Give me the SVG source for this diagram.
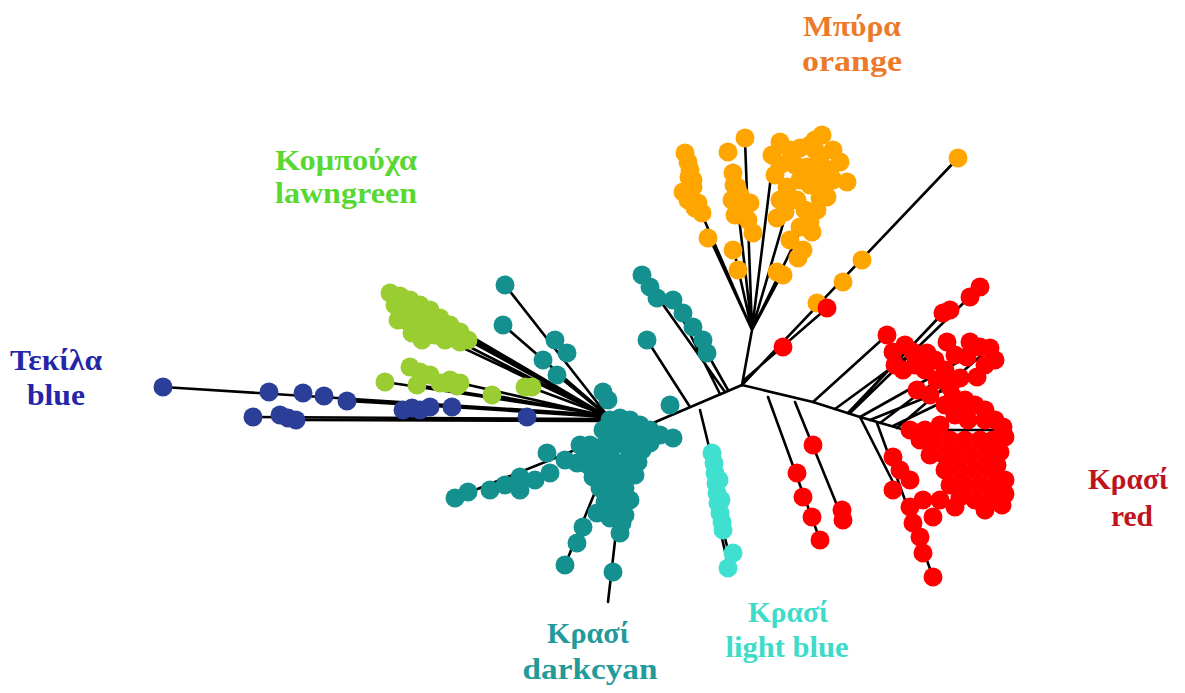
<svg xmlns="http://www.w3.org/2000/svg" width="1185" height="693" viewBox="0 0 1185 693">
<style>
.e{stroke:#000;stroke-width:2.6;fill:none;stroke-linecap:round}
.b circle{fill:#2c3f98}
.g circle{fill:#9acd32}
.t circle{fill:#14908f}
.l circle{fill:#40e0d0}
.o circle{fill:#ffa500}
.r circle{fill:#ff0000}
circle{r:9.5px}
text{font-family:"Liberation Serif","Times New Roman",serif;font-weight:bold;font-size:29px;text-anchor:middle}
</style>
<rect width="1185" height="693" fill="#fff"/>
<g id="connectors" class="e">
<path d="M653,423 L742,385"/>
<path d="M163,387 L605,415 M253,417 L605,419 M347,401 L605,416 M296,420 L605,421 M452,407 L605,417"/>
<path d="M390,293 L605,415 M440,318 L605,415 M468,340 L605,415 M452,338 L605,416 M425,330 L605,415"/>
<path d="M385,382 L605,415 M417,385 L605,415 M460,383 L605,416 M492,395 L605,416 M530,387 L605,415"/>
<path d="M505,285 L607,415 M503,325 L607,415 M557,375 L605,414"/>
<path d="M642,275 L725,392 M673,300 L720,394 M707,353 L728,390 M647,340 L690,407"/>
<path d="M455,498 L600,440 M565,565 L600,480 M608,602 L622,480"/>
<path d="M700,410 L711,455 M723,530 L733,570 M720,530 L729,568"/>
<path d="M742,385 L752,330 M752,330 L700,210 M752,330 L706,230 M752,330 L745,140 M752,330 L733,165 M752,330 L735,255 M752,330 L773,160 M752,330 L790,200 M752,330 L800,232 M752,330 L783,272"/>
<path d="M742,385 L958,158 M744,380 L827,308"/>
<path d="M742,385 L813,402 L860,417 L905,430"/>
<path d="M813,402 L887,335 M835,409 L913,352 M848,413 L943,313 M850,413 L980,287 M860,417 L967,357 M870,420 L977,377 M880,423 L937,380 M893,426 L953,397 M897,428 L990,348 M905,430 L1000,430 M905,430 L1000,503 M905,430 L960,480"/>
<path d="M768,397 L820,540 M795,402 L843,520 M860,417 L897,490 M877,423 L933,577"/>
</g>
<g id="clade-blue" class="b">
<circle cx="163" cy="387" r="9.5"/><circle cx="269" cy="392" r="9.5"/><circle cx="303" cy="393" r="9.5"/><circle cx="324" cy="396" r="9.5"/><circle cx="347" cy="401" r="9.5"/>
<circle cx="253" cy="417" r="9.5"/><circle cx="280" cy="415" r="9.5"/><circle cx="288" cy="418" r="9.5"/><circle cx="296" cy="420" r="9.5"/>
<circle cx="403" cy="410" r="9.5"/><circle cx="412" cy="408" r="9.5"/><circle cx="420" cy="410" r="9.5"/><circle cx="430" cy="407" r="9.5"/><circle cx="452" cy="407" r="9.5"/><circle cx="527" cy="417" r="9.5"/>
</g>
<g id="clade-lawngreen" class="g">
<circle cx="390" cy="293" r="9.5"/><circle cx="400" cy="296" r="9.5"/><circle cx="410" cy="300" r="9.5"/><circle cx="420" cy="305" r="9.5"/><circle cx="430" cy="310" r="9.5"/><circle cx="440" cy="318" r="9.5"/><circle cx="450" cy="325" r="9.5"/><circle cx="460" cy="332" r="9.5"/><circle cx="468" cy="340" r="9.5"/>
<circle cx="405" cy="320" r="9.5"/><circle cx="415" cy="322" r="9.5"/><circle cx="425" cy="330" r="9.5"/><circle cx="435" cy="335" r="9.5"/><circle cx="445" cy="340" r="9.5"/><circle cx="422" cy="340" r="9.5"/><circle cx="452" cy="338" r="9.5"/><circle cx="425" cy="312" r="9.5"/>
<circle cx="395" cy="305" r="9.5"/><circle cx="408" cy="310" r="9.5"/><circle cx="418" cy="318" r="9.5"/><circle cx="432" cy="322" r="9.5"/><circle cx="442" cy="330" r="9.5"/><circle cx="412" cy="333" r="9.5"/><circle cx="398" cy="320" r="9.5"/><circle cx="460" cy="342" r="9.5"/>
<circle cx="385" cy="382" r="9.5"/><circle cx="410" cy="367" r="9.5"/><circle cx="420" cy="372" r="9.5"/><circle cx="430" cy="375" r="9.5"/><circle cx="417" cy="385" r="9.5"/><circle cx="440" cy="383" r="9.5"/><circle cx="450" cy="380" r="9.5"/><circle cx="457" cy="386" r="9.5"/><circle cx="447" cy="383" r="9.5"/><circle cx="460" cy="383" r="9.5"/><circle cx="492" cy="395" r="9.5"/><circle cx="525" cy="387" r="9.5"/><circle cx="532" cy="387" r="9.5"/>
</g>
<g id="clade-darkcyan" class="t">
<circle cx="505" cy="285" r="9.5"/><circle cx="503" cy="325" r="9.5"/><circle cx="555" cy="340" r="9.5"/><circle cx="567" cy="353" r="9.5"/><circle cx="543" cy="360" r="9.5"/><circle cx="557" cy="375" r="9.5"/><circle cx="603" cy="392" r="9.5"/><circle cx="608" cy="400" r="9.5"/>
<circle cx="642" cy="275" r="9.5"/><circle cx="650" cy="287" r="9.5"/><circle cx="657" cy="298" r="9.5"/><circle cx="673" cy="300" r="9.5"/><circle cx="683" cy="313" r="9.5"/><circle cx="693" cy="327" r="9.5"/><circle cx="703" cy="340" r="9.5"/><circle cx="707" cy="353" r="9.5"/><circle cx="647" cy="340" r="9.5"/>
<circle cx="670" cy="405" r="9.5"/><circle cx="673" cy="438" r="9.5"/>
<circle cx="610" cy="420" r="9.5"/><circle cx="620" cy="418" r="9.5"/><circle cx="630" cy="420" r="9.5"/><circle cx="640" cy="425" r="9.5"/><circle cx="650" cy="430" r="9.5"/><circle cx="660" cy="435" r="9.5"/>
<circle cx="612" cy="432" r="9.5"/><circle cx="625" cy="432" r="9.5"/><circle cx="638" cy="438" r="9.5"/><circle cx="605" cy="445" r="9.5"/><circle cx="615" cy="445" r="9.5"/><circle cx="628" cy="448" r="9.5"/><circle cx="642" cy="450" r="9.5"/><circle cx="603" cy="430" r="9.5"/><circle cx="590" cy="445" r="9.5"/><circle cx="588" cy="465" r="9.5"/><circle cx="650" cy="443" r="9.5"/>
<circle cx="600" cy="458" r="9.5"/><circle cx="612" cy="460" r="9.5"/><circle cx="625" cy="462" r="9.5"/><circle cx="638" cy="462" r="9.5"/><circle cx="598" cy="472" r="9.5"/><circle cx="610" cy="475" r="9.5"/><circle cx="622" cy="475" r="9.5"/><circle cx="635" cy="475" r="9.5"/>
<circle cx="600" cy="488" r="9.5"/><circle cx="612" cy="490" r="9.5"/><circle cx="625" cy="488" r="9.5"/><circle cx="605" cy="502" r="9.5"/><circle cx="618" cy="505" r="9.5"/><circle cx="630" cy="500" r="9.5"/><circle cx="597" cy="513" r="9.5"/><circle cx="610" cy="518" r="9.5"/><circle cx="625" cy="515" r="9.5"/>
<circle cx="455" cy="498" r="9.5"/><circle cx="468" cy="492" r="9.5"/><circle cx="490" cy="490" r="9.5"/><circle cx="505" cy="485" r="9.5"/><circle cx="520" cy="477" r="9.5"/><circle cx="520" cy="490" r="9.5"/><circle cx="535" cy="480" r="9.5"/><circle cx="550" cy="473" r="9.5"/><circle cx="547" cy="453" r="9.5"/><circle cx="565" cy="460" r="9.5"/><circle cx="580" cy="445" r="9.5"/><circle cx="577" cy="463" r="9.5"/><circle cx="593" cy="477" r="9.5"/><circle cx="585" cy="458" r="9.5"/>
<circle cx="583" cy="527" r="9.5"/><circle cx="577" cy="543" r="9.5"/><circle cx="565" cy="565" r="9.5"/><circle cx="622" cy="523" r="9.5"/><circle cx="620" cy="533" r="9.5"/><circle cx="613" cy="572" r="9.5"/>
</g>
<g id="clade-lightblue" class="l">
<circle cx="712" cy="453" r="9.5"/><circle cx="714" cy="463" r="9.5"/><circle cx="715" cy="473" r="9.5"/><circle cx="716" cy="483" r="9.5"/><circle cx="717" cy="493" r="9.5"/><circle cx="718" cy="503" r="9.5"/><circle cx="720" cy="513" r="9.5"/><circle cx="722" cy="522" r="9.5"/><circle cx="723" cy="530" r="9.5"/><circle cx="719" cy="480" r="9.5"/><circle cx="721" cy="500" r="9.5"/><circle cx="733" cy="553" r="9.5"/><circle cx="728" cy="568" r="9.5"/>
</g>
<g id="clade-orange" class="o">
<circle cx="685" cy="153" r="9.5"/><circle cx="688" cy="162" r="9.5"/><circle cx="690" cy="170" r="9.5"/><circle cx="693" cy="180" r="9.5"/><circle cx="693" cy="187" r="9.5"/><circle cx="683" cy="192" r="9.5"/><circle cx="688" cy="200" r="9.5"/><circle cx="698" cy="203" r="9.5"/><circle cx="702" cy="213" r="9.5"/><circle cx="708" cy="238" r="9.5"/><circle cx="689" cy="177" r="9.5"/><circle cx="695" cy="208" r="9.5"/>
<circle cx="728" cy="152" r="9.5"/><circle cx="745" cy="138" r="9.5"/><circle cx="733" cy="173" r="9.5"/><circle cx="737" cy="187" r="9.5"/><circle cx="732" cy="200" r="9.5"/><circle cx="740" cy="195" r="9.5"/><circle cx="750" cy="203" r="9.5"/><circle cx="748" cy="220" r="9.5"/><circle cx="753" cy="233" r="9.5"/><circle cx="735" cy="215" r="9.5"/><circle cx="733" cy="250" r="9.5"/><circle cx="738" cy="270" r="9.5"/><circle cx="734" cy="185" r="9.5"/><circle cx="742" cy="210" r="9.5"/>
<circle cx="772" cy="155" r="9.5"/><circle cx="790" cy="150" r="9.5"/><circle cx="800" cy="148" r="9.5"/><circle cx="810" cy="145" r="9.5"/><circle cx="822" cy="135" r="9.5"/><circle cx="833" cy="150" r="9.5"/><circle cx="780" cy="165" r="9.5"/><circle cx="795" cy="165" r="9.5"/><circle cx="807" cy="167" r="9.5"/><circle cx="820" cy="160" r="9.5"/><circle cx="830" cy="170" r="9.5"/>
<circle cx="787" cy="187" r="9.5"/><circle cx="800" cy="180" r="9.5"/><circle cx="810" cy="185" r="9.5"/><circle cx="797" cy="200" r="9.5"/><circle cx="833" cy="180" r="9.5"/><circle cx="847" cy="182" r="9.5"/><circle cx="827" cy="197" r="9.5"/><circle cx="817" cy="210" r="9.5"/><circle cx="777" cy="218" r="9.5"/><circle cx="800" cy="227" r="9.5"/><circle cx="810" cy="222" r="9.5"/>
<circle cx="775" cy="175" r="9.5"/><circle cx="815" cy="175" r="9.5"/><circle cx="825" cy="185" r="9.5"/><circle cx="820" cy="198" r="9.5"/><circle cx="805" cy="210" r="9.5"/><circle cx="785" cy="212" r="9.5"/><circle cx="780" cy="142" r="9.5"/><circle cx="815" cy="140" r="9.5"/><circle cx="840" cy="162" r="9.5"/><circle cx="812" cy="232" r="9.5"/><circle cx="790" cy="240" r="9.5"/>
<circle cx="798" cy="258" r="9.5"/><circle cx="803" cy="250" r="9.5"/><circle cx="777" cy="272" r="9.5"/><circle cx="783" cy="275" r="9.5"/><circle cx="815" cy="150" r="9.5"/><circle cx="790" cy="200" r="9.5"/><circle cx="780" cy="200" r="9.5"/>
<circle cx="862" cy="260" r="9.5"/><circle cx="843" cy="282" r="9.5"/><circle cx="817" cy="303" r="9.5"/><circle cx="958" cy="158" r="9.5"/>
</g>
<g id="clade-red" class="r">
<circle cx="827" cy="308" r="9.5"/><circle cx="783" cy="347" r="9.5"/>
<circle cx="887" cy="335" r="9.5"/><circle cx="893" cy="352" r="9.5"/><circle cx="905" cy="345" r="9.5"/><circle cx="913" cy="352" r="9.5"/><circle cx="927" cy="353" r="9.5"/><circle cx="903" cy="370" r="9.5"/>
<circle cx="943" cy="313" r="9.5"/><circle cx="950" cy="310" r="9.5"/><circle cx="970" cy="297" r="9.5"/><circle cx="980" cy="287" r="9.5"/>
<circle cx="947" cy="342" r="9.5"/><circle cx="970" cy="342" r="9.5"/><circle cx="980" cy="347" r="9.5"/><circle cx="990" cy="348" r="9.5"/><circle cx="967" cy="357" r="9.5"/><circle cx="977" cy="377" r="9.5"/><circle cx="937" cy="380" r="9.5"/><circle cx="917" cy="390" r="9.5"/>
<circle cx="925" cy="370" r="9.5"/><circle cx="945" cy="370" r="9.5"/><circle cx="960" cy="378" r="9.5"/><circle cx="950" cy="387" r="9.5"/>
<circle cx="895" cy="365" r="9.5"/><circle cx="915" cy="365" r="9.5"/><circle cx="935" cy="360" r="9.5"/><circle cx="955" cy="355" r="9.5"/><circle cx="985" cy="365" r="9.5"/><circle cx="995" cy="360" r="9.5"/>
<circle cx="953" cy="397" r="9.5"/><circle cx="965" cy="400" r="9.5"/><circle cx="975" cy="405" r="9.5"/><circle cx="985" cy="420" r="9.5"/><circle cx="1003" cy="427" r="9.5"/><circle cx="993" cy="440" r="9.5"/>
<circle cx="930" cy="395" r="9.5"/><circle cx="945" cy="405" r="9.5"/><circle cx="960" cy="410" r="9.5"/><circle cx="985" cy="410" r="9.5"/><circle cx="995" cy="420" r="9.5"/><circle cx="1005" cy="437" r="9.5"/><circle cx="1000" cy="452" r="9.5"/><circle cx="997" cy="465" r="9.5"/><circle cx="1005" cy="480" r="9.5"/><circle cx="1005" cy="494" r="9.5"/><circle cx="940" cy="500" r="9.5"/><circle cx="955" cy="507" r="9.5"/><circle cx="985" cy="510" r="9.5"/>
<circle cx="910" cy="430" r="9.5"/><circle cx="925" cy="430" r="9.5"/><circle cx="940" cy="425" r="9.5"/><circle cx="955" cy="415" r="9.5"/><circle cx="968" cy="420" r="9.5"/>
<circle cx="920" cy="440" r="9.5"/><circle cx="935" cy="440" r="9.5"/><circle cx="950" cy="440" r="9.5"/><circle cx="965" cy="440" r="9.5"/><circle cx="980" cy="440" r="9.5"/>
<circle cx="930" cy="455" r="9.5"/><circle cx="945" cy="455" r="9.5"/><circle cx="955" cy="455" r="9.5"/><circle cx="970" cy="455" r="9.5"/><circle cx="985" cy="455" r="9.5"/>
<circle cx="945" cy="470" r="9.5"/><circle cx="960" cy="470" r="9.5"/><circle cx="975" cy="470" r="9.5"/><circle cx="990" cy="470" r="9.5"/>
<circle cx="950" cy="485" r="9.5"/><circle cx="965" cy="485" r="9.5"/><circle cx="980" cy="485" r="9.5"/><circle cx="995" cy="485" r="9.5"/>
<circle cx="960" cy="497" r="9.5"/><circle cx="975" cy="500" r="9.5"/><circle cx="990" cy="500" r="9.5"/><circle cx="1002" cy="505" r="9.5"/>
<circle cx="797" cy="473" r="9.5"/><circle cx="803" cy="497" r="9.5"/><circle cx="812" cy="517" r="9.5"/><circle cx="820" cy="540" r="9.5"/>
<circle cx="813" cy="445" r="9.5"/><circle cx="842" cy="510" r="9.5"/><circle cx="843" cy="520" r="9.5"/>
<circle cx="893" cy="457" r="9.5"/><circle cx="900" cy="470" r="9.5"/><circle cx="893" cy="490" r="9.5"/><circle cx="910" cy="480" r="9.5"/>
<circle cx="910" cy="507" r="9.5"/><circle cx="923" cy="500" r="9.5"/><circle cx="933" cy="517" r="9.5"/><circle cx="913" cy="523" r="9.5"/><circle cx="920" cy="537" r="9.5"/><circle cx="923" cy="553" r="9.5"/><circle cx="933" cy="577" r="9.5"/>
</g>
<g id="label-orange" fill="#ec7a2a">
<text x="852" y="36" textLength="98" lengthAdjust="spacingAndGlyphs">Μπύρα</text>
<text x="852" y="71" textLength="100" lengthAdjust="spacingAndGlyphs">orange</text>
</g>
<g id="label-lawngreen" fill="#58d830">
<text x="346" y="170" textLength="142" lengthAdjust="spacingAndGlyphs">Κομπούχα</text>
<text x="346" y="203" textLength="142" lengthAdjust="spacingAndGlyphs">lawngreen</text>
</g>
<g id="label-blue" fill="#2525a8">
<text x="56" y="370" textLength="92" lengthAdjust="spacingAndGlyphs">Τεκίλα</text>
<text x="56" y="405" textLength="58" lengthAdjust="spacingAndGlyphs">blue</text>
</g>
<g id="label-red" fill="#c0141c">
<text x="1128" y="489" textLength="80" lengthAdjust="spacingAndGlyphs">Κρασί</text>
<text x="1132" y="526" textLength="42" lengthAdjust="spacingAndGlyphs">red</text>
</g>
<g id="label-darkcyan" fill="#239a9a">
<text x="588" y="643" textLength="82" lengthAdjust="spacingAndGlyphs">Κρασί</text>
<text x="590" y="679" textLength="135" lengthAdjust="spacingAndGlyphs">darkcyan</text>
</g>
<g id="label-lightblue" fill="#3ddbc8">
<text x="788" y="622" textLength="80" lengthAdjust="spacingAndGlyphs">Κρασί</text>
<text x="787" y="657" textLength="123" lengthAdjust="spacingAndGlyphs">light blue</text>
</g>
</svg>
